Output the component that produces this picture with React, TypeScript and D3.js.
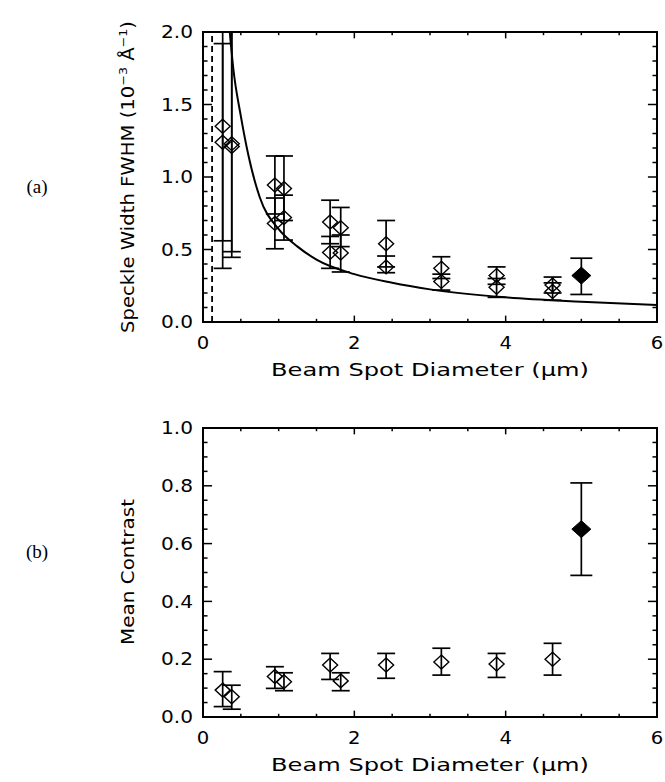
import React from 'react';
import * as d3 from 'd3';

// beam spot diameters (um), shared by both panels
const beamSize = [0.26, 0.38, 0.95, 1.07, 1.68, 1.82, 2.42, 3.15, 3.88, 4.62];

// (a) speckle width, two measurements per spot size
const widthA = [1.35, 1.23, 0.945, 0.92, 0.69, 0.65, 0.54, 0.37, 0.32, 0.255];
const widthALo = [0.37, 0.446, 0.745, 0.70, 0.54, 0.52, 0.38, 0.30, 0.26, 0.20];
const widthAHi = [2.0, 2.0, 1.145, 1.145, 0.84, 0.79, 0.70, 0.45, 0.38, 0.31];
const widthB = [1.24, 1.21, 0.68, 0.72, 0.48, 0.476, 0.38, 0.28, 0.24, 0.21];
const widthBLo = [0.56, 0.485, 0.505, 0.565, 0.37, 0.345, 0.34, 0.22, 0.17, 0.15];
const widthBHi = [1.92, 2.0, 0.855, 0.875, 0.59, 0.60, 0.455, 0.33, 0.30, 0.27];

// filled point (large beam)
const bigSize = [5.0];
const bigWidth = [0.32];
const bigWidthLo = [0.19];
const bigWidthHi = [0.44];

// model curve
const curveX = [0.35, 0.4, 0.5, 0.6, 0.75, 1.0, 1.25, 1.5, 2.0, 2.5, 3.0, 4.0, 5.0, 6.0];
const curveY = [2.02, 1.75, 1.42, 1.15, 0.86, 0.64, 0.52, 0.43, 0.33, 0.27, 0.225, 0.17, 0.14, 0.117];
const cutoffX = 0.12;

// (b) mean contrast
const contrast = [0.093, 0.07, 0.14, 0.122, 0.18, 0.125, 0.18, 0.19, 0.183, 0.20];
const contrastLo = [0.036, 0.027, 0.099, 0.091, 0.13, 0.091, 0.134, 0.145, 0.137, 0.145];
const contrastHi = [0.157, 0.11, 0.174, 0.153, 0.22, 0.153, 0.22, 0.238, 0.22, 0.255];
const bigContrast = [0.65];
const bigContrastLo = [0.49];
const bigContrastHi = [0.81];

// ticks
const xTicks = [0, 2, 4, 6];
const xTickLabels = ['0', '2', '4', '6'];
const yTicksA = [0, 0.5, 1.0, 1.5, 2.0];
const yTickLabelsA = ['0.0', '0.5', '1.0', '1.5', '2.0'];
const yTicksB = [0, 0.2, 0.4, 0.6, 0.8, 1.0];
const yTickLabelsB = ['0.0', '0.2', '0.4', '0.6', '0.8', '1.0'];

const W = 665;
const H = 782;
const FONT = "'DejaVu Sans', sans-serif";
const SERIF = "'Liberation Serif', 'DejaVu Serif', serif";
const LEFT = 203;
const RIGHT = 657;

const diamond = (rx: number, ry: number) => `M0,${-ry}L${rx},0L0,${ry}L${-rx},0Z`;

// IDL-ish wide labels
const labelLen = (s: string) =>
  s.split('').reduce((acc, c) => acc + (c === '.' ? 7 : 12.5), 0);

type PanelProps = {
  id: string;
  top: number;
  bottom: number;
  yDomain: [number, number];
  yTicks: number[];
  yLabels: string[];
  yMinor: number;
  children: (x: d3.ScaleLinear<number, number>, y: d3.ScaleLinear<number, number>) => React.ReactNode;
};

const Panel = ({ id, top, bottom, yDomain, yTicks, yLabels, yMinor, children }: PanelProps) => {
  const x = d3.scaleLinear().domain([0, 6]).range([LEFT, RIGHT]);
  const y = d3.scaleLinear().domain(yDomain).range([bottom, top]);
  const plotH = bottom - top;
  const plotW = RIGHT - LEFT;
  const xMaj = plotH * 0.022;
  const yMaj = plotW * 0.02;

  const xMinorTicks = d3.range(0, 6.001, 0.5);
  const yMinorTicks = d3.range(yDomain[0], yDomain[1] + 1e-6, yMinor);

  return (
    <g>
      <defs>
        <clipPath id={`clip-${id}`}>
          <rect x={LEFT} y={top} width={plotW} height={plotH} />
        </clipPath>
      </defs>
      <g clipPath={`url(#clip-${id})`}>{children(x, y)}</g>

      {/* x ticks, bottom and top */}
      {xMinorTicks.map((t) => {
        const len = xTicks.some((m) => Math.abs(m - t) < 1e-6) ? xMaj : xMaj / 2;
        return (
          <g key={`xt${t}`} stroke="#000" strokeWidth={1.5}>
            <line x1={x(t)} x2={x(t)} y1={bottom} y2={bottom - len} />
            <line x1={x(t)} x2={x(t)} y1={top} y2={top + len} />
          </g>
        );
      })}
      {/* y ticks, left and right */}
      {yMinorTicks.map((t) => {
        const len = yTicks.some((m) => Math.abs(m - t) < 1e-6) ? yMaj : yMaj / 2;
        return (
          <g key={`yt${t.toFixed(3)}`} stroke="#000" strokeWidth={1.5}>
            <line x1={LEFT} x2={LEFT + len} y1={y(t)} y2={y(t)} />
            <line x1={RIGHT} x2={RIGHT - len} y1={y(t)} y2={y(t)} />
          </g>
        );
      })}

      <rect x={LEFT} y={top} width={plotW} height={plotH} fill="none" stroke="#000" strokeWidth={2} />

      {xTicks.map((t, i) => (
        <text
          key={`xl${t}`}
          x={x(t)}
          y={bottom + 27}
          textAnchor="middle"
          fontFamily={FONT}
          fontSize={17}
          textLength={labelLen(xTickLabels[i])}
          lengthAdjust="spacingAndGlyphs"
        >
          {xTickLabels[i]}
        </text>
      ))}
      {yTicks.map((t, i) => (
        <text
          key={`yl${t}`}
          x={LEFT - 10}
          y={y(t)}
          dy="0.36em"
          textAnchor="end"
          fontFamily={FONT}
          fontSize={17}
          textLength={labelLen(yLabels[i])}
          lengthAdjust="spacingAndGlyphs"
        >
          {yLabels[i]}
        </text>
      ))}
      <text
        x={(LEFT + RIGHT) / 2}
        y={bottom + 54}
        textAnchor="middle"
        fontFamily={FONT}
        fontSize={17}
        textLength={318}
        lengthAdjust="spacingAndGlyphs"
      >
        Beam Spot Diameter (μm)
      </text>
    </g>
  );
};

const ErrorPoints = ({
  x,
  y,
  xs,
  ys,
  lo,
  hi,
  filled,
}: {
  x: d3.ScaleLinear<number, number>;
  y: d3.ScaleLinear<number, number>;
  xs: number[];
  ys: number[];
  lo: number[];
  hi: number[];
  filled?: boolean;
}) => {
  const cap = filled ? 11 : 9;
  return (
    <g>
      {xs.map((v, i) => (
        <g key={i} stroke="#000" strokeWidth={1.7}>
          <line x1={x(v)} x2={x(v)} y1={y(lo[i])} y2={y(hi[i])} />
          <line x1={x(v) - cap} x2={x(v) + cap} y1={y(lo[i])} y2={y(lo[i])} />
          <line x1={x(v) - cap} x2={x(v) + cap} y1={y(hi[i])} y2={y(hi[i])} />
          <path
            d={filled ? diamond(9.5, 8.5) : diamond(7.5, 7)}
            transform={`translate(${x(v)},${y(ys[i])})`}
            fill={filled ? '#000' : 'none'}
            strokeWidth={filled ? 1 : 1.4}
          />
        </g>
      ))}
    </g>
  );
};

export default function App() {
  const curvePts = curveX.map((v, i) => [v, curveY[i]] as [number, number]);

  return (
    <svg
      width={W}
      height={H}
      viewBox={`0 0 ${W} ${H}`}
      style={{ position: 'absolute', left: 0, top: 0, display: 'block', background: '#fff' }}
    >
      <rect width={W} height={H} fill="#fff" />

      <text x={37} y={193} textAnchor="middle" fontFamily={SERIF} fontSize={19}>
        (a)
      </text>
      <text x={37} y={558} textAnchor="middle" fontFamily={SERIF} fontSize={19}>
        (b)
      </text>

      <Panel
        id="a"
        top={32}
        bottom={322}
        yDomain={[0, 2]}
        yTicks={yTicksA}
        yLabels={yTickLabelsA}
        yMinor={0.1}
      >
        {(x, y) => {
          const line = d3
            .line<[number, number]>()
            .x((d) => x(d[0]))
            .y((d) => y(d[1]))
            .curve(d3.curveMonotoneX);
          return (
            <g>
              <line
                x1={x(cutoffX)}
                x2={x(cutoffX)}
                y1={y(0)}
                y2={y(2)}
                stroke="#000"
                strokeWidth={1.8}
                strokeDasharray="6,4"
              />
              <path d={line(curvePts) || ''} fill="none" stroke="#000" strokeWidth={2} />
              <ErrorPoints x={x} y={y} xs={beamSize} ys={widthA} lo={widthALo} hi={widthAHi} />
              <ErrorPoints x={x} y={y} xs={beamSize} ys={widthB} lo={widthBLo} hi={widthBHi} />
              <ErrorPoints x={x} y={y} xs={bigSize} ys={bigWidth} lo={bigWidthLo} hi={bigWidthHi} filled />
            </g>
          );
        }}
      </Panel>
      <text
        transform={`translate(134,177) rotate(-90)`}
        textAnchor="middle"
        fontFamily={FONT}
        fontSize={17}
        textLength={312}
        lengthAdjust="spacingAndGlyphs"
      >
        Speckle Width FWHM (10
        <tspan dy={-7} fontSize={11}>
          −3
        </tspan>
        <tspan dy={7}> Å</tspan>
        <tspan dy={-7} fontSize={11}>
          −1
        </tspan>
        <tspan dy={7}>)</tspan>
      </text>

      <Panel
        id="b"
        top={428}
        bottom={717}
        yDomain={[0, 1]}
        yTicks={yTicksB}
        yLabels={yTickLabelsB}
        yMinor={0.05}
      >
        {(x, y) => (
          <g>
            <ErrorPoints x={x} y={y} xs={beamSize} ys={contrast} lo={contrastLo} hi={contrastHi} />
            <ErrorPoints
              x={x}
              y={y}
              xs={bigSize}
              ys={bigContrast}
              lo={bigContrastLo}
              hi={bigContrastHi}
              filled
            />
          </g>
        )}
      </Panel>
      <text
        transform={`translate(134,572) rotate(-90)`}
        textAnchor="middle"
        fontFamily={FONT}
        fontSize={17}
        textLength={146}
        lengthAdjust="spacingAndGlyphs"
      >
        Mean Contrast
      </text>
    </svg>
  );
}
